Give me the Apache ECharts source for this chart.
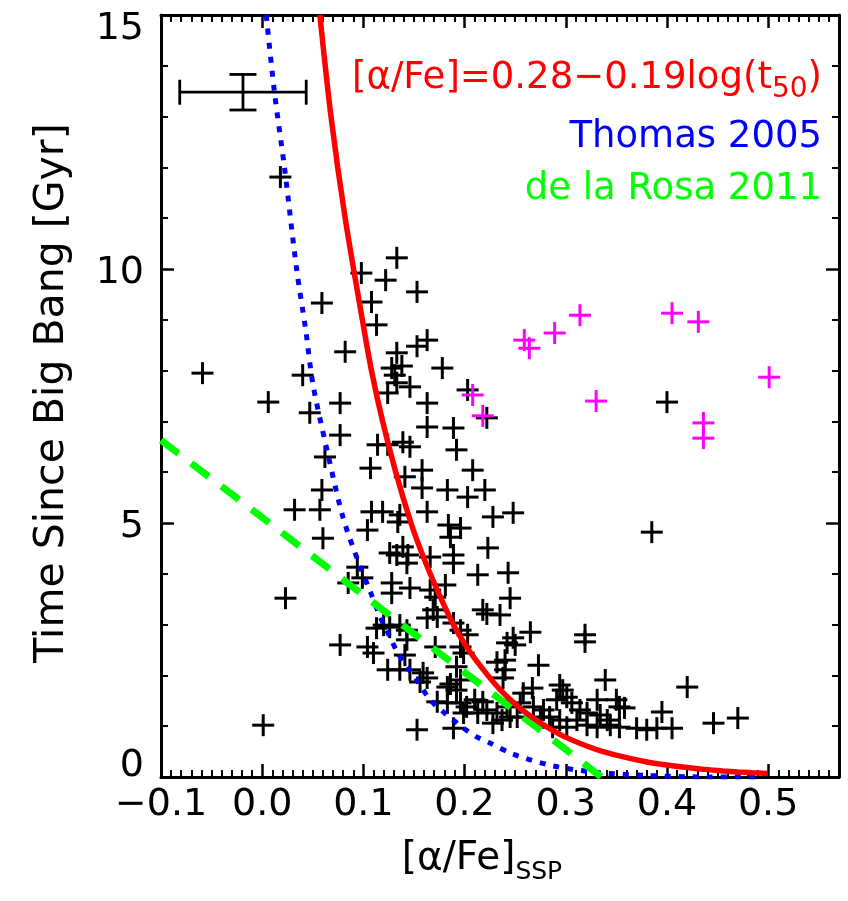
<!DOCTYPE html>
<html><head><meta charset="utf-8">
<script src="https://cdn.jsdelivr.net/npm/echarts@6/dist/echarts.min.js"></script>
<style>html,body{margin:0;padding:0;background:#fff}#c{width:848px;height:901px}</style>
</head><body><div id="c"></div>
<script>
const xTicks = [-0.1, 0, 0.1, 0.2, 0.3, 0.4, 0.5];
const xTickLabels = ['−0.1', '0.0', '0.1', '0.2', '0.3', '0.4', '0.5'];
const yTicks = [0, 5, 10, 15];
const yTickLabels = ['0', '5', '10', '15'];

const blackX = [0.018,0.098,0.122,0.133,0.153,0.059,0.108,0.113,0.082,0.153,0.163,0.133,0.128,0.138,0.131,0.133,0.146,0.124,0.178,0.163,
0.077,0.203,0.222,-0.059,0.006,0.040,0.047,0.077,0.062,0.107,0.114,0.124,0.059,0.057,0.032,0.163,0.189,0.139,0.146,0.192,
0.141,0.158,0.208,0.158,0.183,0.203,0.220,0.108,0.119,0.136,0.163,0.134,0.104,0.184,0.196,0.186,0.060,0.139,0.133,0.144,
0.189,0.223,0.166,0.143,0.094,0.189,0.228,0.248,0.400,0.385,0.085,0.099,0.023,0.120,0.077,0.104,0.110,0.001,0.124,0.128,
0.128,0.146,0.213,0.243,0.166,0.171,0.181,0.245,0.169,0.173,0.218,0.222,0.235,0.126,0.136,0.143,0.163,0.189,0.196,0.203,
0.248,0.242,0.143,0.171,0.196,0.199,0.232,0.240,0.136,0.146,0.159,0.163,0.156,0.192,0.196,0.186,0.192,0.183,0.196,0.202,
0.210,0.218,0.199,0.213,0.222,0.232,0.242,0.228,0.237,0.245,0.189,0.153,0.265,0.250,0.319,0.319,0.273,0.339,0.420,0.240,
0.238,0.294,0.297,0.267,0.258,0.301,0.306,0.291,0.331,0.350,0.353,0.358,0.395,0.255,0.268,0.278,0.275,0.314,0.321,0.334,
0.341,0.311,0.321,0.331,0.344,0.353,0.370,0.380,0.390,0.405,0.446,0.470,0.284,0.294,0.301,0.287,0.252,0.126,0.113,0.141,
0.183,0.173];
const blackY = [11.81,9.92,9.78,10.22,9.55,9.33,9.35,8.90,8.37,8.48,8.60,8.35,8.05,8.09,7.91,7.76,7.68,7.56,8.05,7.36,
7.36,7.62,7.07,7.95,7.38,7.91,7.17,6.73,6.30,6.08,6.54,6.54,5.65,5.26,5.26,6.89,6.87,6.59,6.50,6.44,
5.91,6.04,6.04,5.69,5.65,5.51,5.65,5.22,5.22,5.16,5.22,5.02,4.86,4.96,4.90,4.72,4.70,4.53,4.37,4.37,
4.37,4.51,4.33,4.21,4.13,4.21,5.12,5.20,7.38,4.82,3.82,3.92,3.52,2.99,2.60,2.56,2.44,1.02,2.11,3.82,
3.62,3.72,3.98,4.02,3.68,3.54,3.78,3.52,3.29,3.15,3.29,3.21,3.19,2.95,2.99,2.89,3.13,3.03,2.89,2.80,
2.74,2.64,2.70,2.56,2.56,2.44,2.26,2.30,2.11,2.11,2.05,1.95,1.87,2.17,1.91,1.83,1.71,1.46,1.46,1.38,
1.52,1.48,1.26,1.26,1.32,1.26,1.38,1.06,1.12,1.18,0.96,0.93,2.85,2.60,2.80,2.66,2.20,1.91,1.77,2.11,
1.95,1.81,1.71,1.75,1.65,1.57,1.46,1.52,1.52,1.52,1.38,1.36,1.28,1.46,1.38,1.32,1.18,1.32,1.26,1.22,
1.12,1.12,1.02,0.98,1.02,0.98,0.96,0.93,0.96,0.96,1.06,1.16,1.18,1.12,0.98,0.98,1.18,4.41,2.93,2.40,
1.77,1.48];

const magentaX = [0.259,0.264,0.289,0.314,0.405,0.431,0.501,0.330,0.436,0.436,0.208,0.218];
const magentaY = [8.60,8.44,8.74,9.09,9.13,8.96,7.87,7.40,6.97,6.67,7.52,7.11];

const redX = [0.057,0.068,0.082,0.099,0.108,0.119,0.132,0.147,0.156,0.166,0.177,0.189,0.204,0.223,0.236,0.252,0.265,0.280,0.298,0.322,0.337,0.356,0.379,0.394,0.413,0.437,0.455,0.470,0.484,0.499];
const redY = [15,13,11,9,8,7,6,5,4.5,4,3.5,3,2.5,2,1.7,1.4,1.2,1,0.8,0.6,0.5,0.4,0.3,0.25,0.2,0.15,0.12,0.1,0.085,0.07];

const blueX = [0.004,0.012,0.022,0.034,0.043,0.050,0.064,0.080,0.097,0.107,0.117,0.124,0.134,0.143,0.153,0.166,0.179,0.189,0.199,0.212,0.225,0.248,0.287,0.331,0.380,0.440,0.495];
const blueY = [15,13.5,12,10,8.8,7.75,6.44,5.1,4.13,3.64,3.13,2.85,2.44,2.17,1.9,1.52,1.28,1.12,0.96,0.79,0.67,0.45,0.22,0.09,0.03,0.0,0.0];

const greenX = [-0.1, 0.0, 0.1, 0.2, 0.3, 0.335];
const greenY = [6.63, 5.11, 3.58, 2.06, 0.54, 0.0];

const errCenter = [-0.019, 13.48];
const errHalf = [0.0625, 0.35];

const zip = (a, b) => a.map((v, i) => [v, b[i]]);
const FONT = 'DejaVu Sans';

function crossSeries(xs, ys, color) {
  return {
    type: 'custom', clip: true, z: 2,
    data: zip(xs, ys),
    renderItem: function (params, api) {
      const p = api.coord([api.value(0), api.value(1)]);
      const h = 11;
      const st = { stroke: color, lineWidth: 3 };
      return { type: 'group', children: [
        { type: 'line', shape: { x1: p[0] - h, y1: p[1], x2: p[0] + h, y2: p[1] }, style: st },
        { type: 'line', shape: { x1: p[0], y1: p[1] - h, x2: p[0], y2: p[1] + h }, style: st }
      ]};
    }
  };
}

function xAxisCfg(pos, show) {
  return {
    type: 'value', position: pos, min: -0.1, max: 0.57, interval: 0.1,
    axisLine: { show: true, onZero: false, lineStyle: { color: '#000', width: 3 } },
    axisTick: { show: true, inside: true, length: 13, lineStyle: { color: '#000', width: 2.5 } },
    minorTick: { show: true, splitNumber: 10, length: 7, lineStyle: { color: '#000', width: 2 } },
    splitLine: { show: false }, minorSplitLine: { show: false },
    axisLabel: {
      show: show, margin: 9, color: '#000', fontSize: 38, fontFamily: FONT, showMaxLabel: false,
      formatter: function (v) {
        const i = xTicks.findIndex(t => Math.abs(t - v) < 1e-6);
        return i >= 0 ? xTickLabels[i] : '';
      }
    }
  };
}
function yAxisCfg(pos, show) {
  return {
    type: 'value', position: pos, min: 0, max: 15, interval: 5,
    axisLine: { show: true, onZero: false, lineStyle: { color: '#000', width: 3 } },
    axisTick: { show: true, inside: true, length: 13, lineStyle: { color: '#000', width: 2.5 } },
    minorTick: { show: true, splitNumber: 5, length: 7, lineStyle: { color: '#000', width: 2 } },
    splitLine: { show: false }, minorSplitLine: { show: false },
    axisLabel: {
      show: show, margin: 17, color: '#000', fontSize: 38, fontFamily: FONT,
      formatter: function (v) {
        const i = yTicks.findIndex(t => Math.abs(t - v) < 1e-6);
        if (i < 0) return '';
        const lab = yTickLabels[i];
        if (v === 15) return '{t|' + lab + '}';
        if (v === 0) return '{b|' + lab + '}';
        return '{m|' + lab + '}';
      },
      rich: {
        t: { fontSize: 38, fontFamily: FONT, color: '#000', padding: [28, 0, 0, 0] },
        m: { fontSize: 38, fontFamily: FONT, color: '#000', padding: [8, 0, 0, 0] },
        b: { fontSize: 38, fontFamily: FONT, color: '#000', padding: [0, 0, 22, 0] }
      }
    }
  };
}

const chart = echarts.init(document.getElementById('c'), null, { renderer: 'canvas' });
chart.setOption({
  backgroundColor: '#fff',
  animation: false,
  grid: { left: 161, top: 15, right: 9, bottom: 124, containLabel: false },
  xAxis: [xAxisCfg('bottom', true), xAxisCfg('top', false)],
  yAxis: [yAxisCfg('left', true), yAxisCfg('right', false)],
  series: [
    crossSeries(blackX, blackY, '#000000'),
    crossSeries(magentaX, magentaY, '#ff00ff'),
    {
      type: 'custom', clip: true, z: 3,
      data: [[errCenter[0], errCenter[1], errHalf[0], errHalf[1]]],
      renderItem: function (params, api) {
        const cx = api.value(0), cy = api.value(1), ex = api.value(2), ey = api.value(3);
        const l = api.coord([cx - ex, cy]), r = api.coord([cx + ex, cy]);
        const t = api.coord([cx, cy + ey]), b = api.coord([cx, cy - ey]);
        const st = { stroke: '#000', lineWidth: 2.8 };
        const capH = 12.5, capW = 13.5;
        return { type: 'group', children: [
          { type: 'line', shape: { x1: l[0], y1: l[1], x2: r[0], y2: r[1] }, style: st },
          { type: 'line', shape: { x1: l[0], y1: l[1] - capH, x2: l[0], y2: l[1] + capH }, style: st },
          { type: 'line', shape: { x1: r[0], y1: r[1] - capH, x2: r[0], y2: r[1] + capH }, style: st },
          { type: 'line', shape: { x1: t[0], y1: t[1], x2: b[0], y2: b[1] }, style: st },
          { type: 'line', shape: { x1: t[0] - capW, y1: t[1], x2: t[0] + capW, y2: t[1] }, style: st },
          { type: 'line', shape: { x1: b[0] - capW, y1: b[1], x2: b[0] + capW, y2: b[1] }, style: st }
        ]};
      }
    },
    {
      type: 'line', data: zip(blueX, blueY), showSymbol: false, smooth: 0.3, z: 4, clip: true,
      lineStyle: { color: '#0000ff', width: 5, type: [6, 8] }
    },
    {
      type: 'line', data: zip(greenX, greenY), showSymbol: false, z: 5, clip: true,
      lineStyle: { color: '#00ff00', width: 7, type: [22, 16] }
    },
    {
      type: 'line', data: zip(redX, redY), showSymbol: false, smooth: 0.3, z: 6, clip: true,
      lineStyle: { color: '#ff0000', width: 5.5 }
    }
  ],
  graphic: [
    {
      type: 'text', x: 822, y: 82, z: 10,
      style: {
        text: '{a|[α/Fe]=0.28−0.19log(t}{s|50}{a|)}',
        align: 'right', verticalAlign: 'middle',
        rich: {
          a: { fontSize: 37, fontFamily: FONT, fill: '#ff0000', lineHeight: 44, verticalAlign: 'top' },
          s: { fontSize: 28, fontFamily: FONT, fill: '#ff0000', lineHeight: 28, verticalAlign: 'bottom' }
        }
      }
    },
    {
      type: 'text', x: 822, y: 137, z: 10,
      style: { text: 'Thomas 2005', fontSize: 37, fontFamily: FONT, fill: '#0000ff', align: 'right', verticalAlign: 'middle' }
    },
    {
      type: 'text', x: 822, y: 189, z: 10,
      style: { text: 'de la Rosa 2011', fontSize: 37, fontFamily: FONT, fill: '#00ff00', align: 'right', verticalAlign: 'middle' }
    },
    {
      type: 'text', x: 482, y: 862, z: 10,
      style: {
        text: '{a|[α/Fe]}{s|SSP}',
        align: 'center', verticalAlign: 'middle',
        rich: {
          a: { fontSize: 39, fontFamily: FONT, fill: '#000', lineHeight: 46, verticalAlign: 'top' },
          s: { fontSize: 25, fontFamily: FONT, fill: '#000', lineHeight: 25, verticalAlign: 'bottom' }
        }
      }
    },
    {
      type: 'text', x: 52, y: 393, rotation: Math.PI / 2, z: 10,
      style: { text: 'Time Since Big Bang [Gyr]', fontSize: 41, fontFamily: FONT, fill: '#000', align: 'center', verticalAlign: 'middle' }
    }
  ]
});
</script>
</body></html>
